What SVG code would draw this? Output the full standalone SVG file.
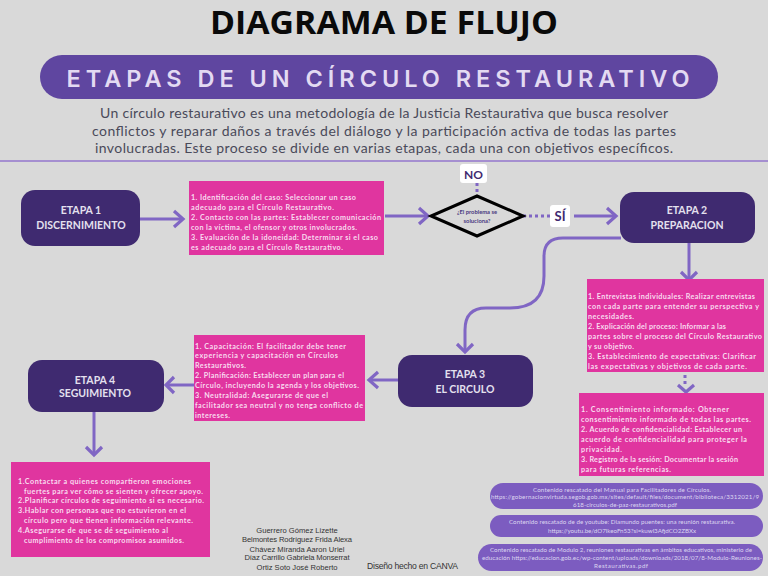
<svg xmlns="http://www.w3.org/2000/svg" width="768" height="576" viewBox="0 0 768 576">
<style>
.stage{fill:#3f2a70}
.pink{fill:#e0359f}
.st{font:700 10.5px "Lato",sans-serif;fill:#e4e0ee;text-anchor:middle}
.pt{font:700 7.2px "Lato",sans-serif;fill:#f9dcef}
.pill{fill:#7c5cc0}
.pl{font:400 6.2px "Lato",sans-serif;fill:#ddd6f0;text-anchor:middle}
.intro{font:400 14px "Lato",sans-serif;fill:#4a4a5a;text-anchor:middle}
.nm{font:400 7.6px "Liberation Sans",sans-serif;fill:#333;text-anchor:middle}
.ln{fill:none;stroke:#8066c4;stroke-width:3}
.dot{fill:none;stroke:#8066c4;stroke-width:3;stroke-dasharray:3 3}
.ah{fill:none;stroke:#8066c4;stroke-width:3.2}
</style>
<rect width="768" height="576" fill="#d9d9d9"/>
<text x="384" y="34" text-anchor="middle" textLength="348" lengthAdjust="spacingAndGlyphs" style="font:700 31.500px 'Open Sans',sans-serif" fill="#0a0a0a">DIAGRAMA DE FLUJO</text>
<rect x="40" y="55" width="678" height="44" rx="22" fill="#5f46a0"/>
<text x="378" y="87" text-anchor="middle" textLength="623" style="font:600 23.500px 'Inter',sans-serif" fill="#e3daf2">ETAPAS DE UN CÍRCULO RESTAURATIVO</text>
<text class="intro" x="384" y="118" textLength="568">Un círculo restaurativo es una metodología de la Justicia Restaurativa que busca resolver</text>
<text class="intro" x="384" y="136" textLength="584">conflictos y reparar daños a través del diálogo y la participación activa de todas las partes</text>
<text class="intro" x="384" y="153" textLength="578">involucradas. Este proceso se divide en varias etapas, cada una con objetivos específicos.</text>
<line x1="0" y1="161" x2="768" y2="161" stroke="#a58fd0" stroke-width="2"/>

<g id="connectors">
<path class="ln" d="M140 219H182"/><path class="ah" d="M174 211L183 219L174 227"/>
<path class="ln" d="M385 216H426"/><path class="ah" d="M419 208L428 216L419 224"/>
<path class="dot" d="M477 183V196"/>
<path class="dot" d="M523 216H550"/>
<path class="ln" d="M574 216H614"/><path class="ah" d="M607 208L616 216L607 224"/>
<path class="ln" d="M689 243V279"/><path class="ah" d="M681 272L689 280L697 272"/>
<path class="dot" d="M685 375V386"/><path class="ah" d="M678 385L686 392L694 385"/>
<path class="ln" d="M621 238H563Q544 238 544 256V276Q544 308 510 308H486Q465 308 465 330V351"/><path class="ah" d="M457 344L465 352L473 344"/>
<path class="ln" d="M398 380H371"/><path class="ah" d="M378 372L369 380L378 388"/>
<path class="ln" d="M194 385H167"/><path class="ah" d="M174 377L166 385L174 393"/>
<path class="ln" d="M94 412V453"/><path class="ah" d="M86 447L94 455L102 447"/>
</g>

<g id="etapa1"><rect class="stage" x="21" y="190" width="119" height="56" rx="14"/><text class="st" x="81" y="214">ETAPA 1</text><text class="st" x="81" y="229">DISCERNIMIENTO</text></g>
<g id="texto1"><rect class="pink" x="189" y="181" width="195" height="74"/>
<text class="pt" x="191" y="200" textLength="165">1. Identificación del caso: Seleccionar un caso</text>
<text class="pt" x="191" y="210" textLength="143">adecuado para el Círculo Restaurativo.</text>
<text class="pt" x="191" y="220" textLength="190">2. Contacto con las partes: Establecer comunicación</text>
<text class="pt" x="191" y="230" textLength="166">con la víctima, el ofensor y otros involucrados.</text>
<text class="pt" x="191" y="240" textLength="187">3. Evaluación de la idoneidad: Determinar si el caso</text>
<text class="pt" x="191" y="250" textLength="152">es adecuado para el Círculo Restaurativo.</text></g>

<g id="decision"><path d="M477 196L523 216L477 236L431 216Z" fill="#d9d9d9" stroke="#000" stroke-width="3"/>
<text x="477" y="214" text-anchor="middle" style="font:700 5.8px 'Lato',sans-serif" fill="#4a3a80">¿El problema se</text><text x="477" y="223" text-anchor="middle" style="font:700 5.8px 'Lato',sans-serif" fill="#4a3a80">soluciona?</text></g>
<g id="no"><rect x="460" y="164" width="27" height="19" rx="3" fill="#fff"/><text x="473.500" y="179" text-anchor="middle" style="font:700 12px 'Lato',sans-serif" fill="#3f2a70">NO</text></g>
<g id="si"><rect x="550" y="205" width="20" height="22" rx="3" fill="#fff"/><text x="560" y="221" text-anchor="middle" style="font:700 13px 'Lato',sans-serif" fill="#3f2a70">SÍ</text></g>

<g id="etapa2"><rect class="stage" x="620" y="192" width="135" height="51" rx="14"/><text class="st" x="687" y="214">ETAPA 2</text><text class="st" x="687" y="229">PREPARACION</text></g>
<g id="texto2"><rect class="pink" x="587" y="279" width="177" height="93"/>
<text class="pt" x="588" y="299" textLength="167">1. Entrevistas individuales: Realizar entrevistas</text>
<text class="pt" x="588" y="309" textLength="171">con cada parte para entender su perspectiva y</text>
<text class="pt" x="588" y="319" textLength="46">necesidades.</text>
<text class="pt" x="588" y="329" textLength="138">2. Explicación del proceso: Informar a las</text>
<text class="pt" x="588" y="339" textLength="174">partes sobre el proceso del Círculo Restaurativo</text>
<text class="pt" x="588" y="349" textLength="46">y su objetivo.</text>
<text class="pt" x="588" y="359" textLength="168">3. Establecimiento de expectativas: Clarificar</text>
<text class="pt" x="588" y="369" textLength="159">las expectativas y objetivos de cada parte.</text></g>
<g id="texto3"><rect class="pink" x="579" y="393" width="185" height="83"/>
<text class="pt" x="581" y="412" textLength="148">1. Consentimiento informado: Obtener</text>
<text class="pt" x="581" y="422" textLength="170">consentimiento informado de todas las partes.</text>
<text class="pt" x="581" y="432" textLength="161">2. Acuerdo de confidencialidad: Establecer un</text>
<text class="pt" x="581" y="442" textLength="166">acuerdo de confidencialidad para proteger la</text>
<text class="pt" x="581" y="452" textLength="41">privacidad.</text>
<text class="pt" x="581" y="462" textLength="157">3. Registro de la sesión: Documentar la sesión</text>
<text class="pt" x="581" y="472" textLength="90">para futuras referencias.</text></g>

<g id="etapa3"><rect class="stage" x="398" y="355" width="135" height="52" rx="14"/><text class="st" x="465" y="378">ETAPA 3</text><text class="st" x="465" y="393">EL CIRCULO</text></g>
<g id="texto4"><rect class="pink" x="194" y="335" width="171" height="86"/>
<text class="pt" x="195" y="349" textLength="151">1. Capacitación: El facilitador debe tener</text>
<text class="pt" x="195" y="358" textLength="143">experiencia y capacitación en Círculos</text>
<text class="pt" x="195" y="368" textLength="51">Restaurativos.</text>
<text class="pt" x="195" y="378" textLength="149">2. Planificación: Establecer un plan para el</text>
<text class="pt" x="195" y="388" textLength="164">Círculo, incluyendo la agenda y los objetivos.</text>
<text class="pt" x="195" y="398" textLength="133">3. Neutralidad: Asegurarse de que el</text>
<text class="pt" x="195" y="408" textLength="168">facilitador sea neutral y no tenga conflicto de</text>
<text class="pt" x="195" y="418" textLength="35">intereses.</text></g>
<g id="etapa4"><rect class="stage" x="28" y="360" width="136" height="52" rx="14"/><text class="st" x="95" y="384">ETAPA 4</text><text class="st" x="95" y="397">SEGUIMIENTO</text></g>
<g id="texto5"><rect class="pink" x="11" y="462" width="199" height="95"/>
<text class="pt" x="18" y="484" textLength="173">1.Contactar a quienes compartieron emociones</text>
<text class="pt" x="24" y="494" textLength="179">fuertes para ver cómo se sienten y ofrecer apoyo.</text>
<text class="pt" x="18" y="503" textLength="186">2.Planificar círculos de seguimiento si es necesario.</text>
<text class="pt" x="18" y="513" textLength="168">3.Hablar con personas que no estuvieron en el</text>
<text class="pt" x="24" y="523" textLength="169">círculo pero que tienen información relevante.</text>
<text class="pt" x="18" y="533" textLength="150">4.Asegurarse de que se dé seguimiento al</text>
<text class="pt" x="24" y="543" textLength="160">cumplimiento de los compromisos asumidos.</text></g>

<g id="autores">
<text class="nm" x="297" y="533">Guerrero Gómez Lizette</text>
<text class="nm" x="297" y="542" textLength="110">Belmontes Rodríguez Frida Alexa</text>
<text class="nm" x="297" y="552">Chávez Miranda Aaron Uriel</text>
<text class="nm" x="297" y="560" textLength="105">Díaz Carrillo Gabriela Monserrat</text>
<text class="nm" x="297" y="570">Ortiz Soto José Roberto</text>
</g>
<text x="367" y="569" textLength="91" style="font:400 8.6px 'Liberation Sans',sans-serif" fill="#333">Diseño hecho en CANVA</text>

<g id="fuente1"><rect class="pill" x="490" y="483" width="273" height="26" rx="13"/>
<text class="pl" x="622" y="492" textLength="178">Contenido rescatado del Manual para Facilitadores de Círculos.</text>
<text class="pl" x="625" y="499" textLength="268">https://gobernacionvirtuda.segob.gob.mx/sites/default/files/document/biblioteca/3312021/9</text>
<text class="pl" x="625" y="507" textLength="104">618-circulos-de-paz-restaurativos.pdf</text></g>
<g id="fuente2"><rect class="pill" x="490" y="515" width="273" height="22" rx="11"/>
<text class="pl" x="622" y="524" textLength="226">Contenido rescatado de de youtube: Diamundo puentes: una reunión restaurativa.</text>
<text class="pl" x="622" y="533" textLength="148">https://youtu.be/dO7lkeoFn53?si=kuwl3AfjdCO2ZBXx</text></g>
<g id="fuente3"><rect class="pill" x="478" y="544" width="285" height="27" rx="13.500"/>
<text class="pl" x="621" y="552" textLength="262">Contenido rescatado de Modulo 2, reuniones restaurativas en ámbitos educativos, ministerio de</text>
<text class="pl" x="622" y="560" textLength="280">educación https://educacion.gob.ec/wp-content/uploads/downloads/2018/07/8-Modulo-Reuniones-</text>
<text class="pl" x="621" y="568" textLength="54">Restaurativas.pdf</text></g>
</svg>
